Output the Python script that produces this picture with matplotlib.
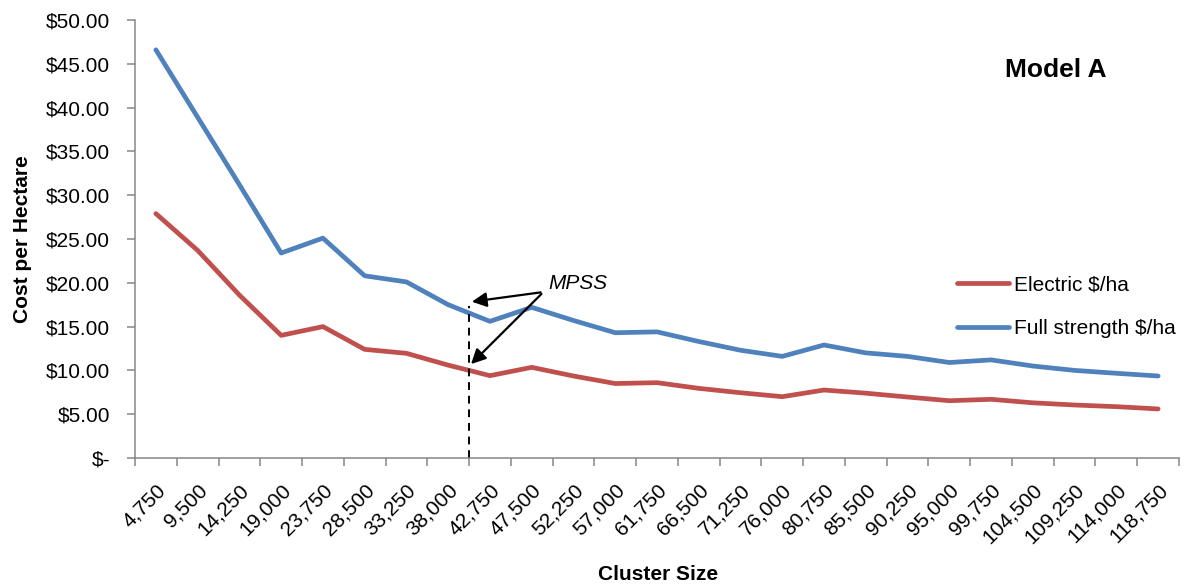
import numpy as np
import matplotlib.pyplot as plt

# cost per hectare by cluster size, Model A
plt.rcParams['font.family'] = ['Liberation Sans', 'DejaVu Sans']

cluster_sizes = ['4,750', '9,500', '14,250', '19,000', '23,750', '28,500', '33,250',
                 '38,000', '42,750', '47,500', '52,250', '57,000', '61,750', '66,500',
                 '71,250', '76,000', '80,750', '85,500', '90,250', '95,000', '99,750',
                 '104,500', '109,250', '114,000', '118,750']
electric = [27.9, 23.7, 18.6, 14.0, 15.0, 12.4, 11.95, 10.6, 9.4, 10.35, 9.36, 8.5,
            8.6, 7.95, 7.45, 7.0, 7.76, 7.4, 6.96, 6.54, 6.7, 6.3, 6.05, 5.86, 5.6]
full_strength = [46.6, 38.9, 31.2, 23.4, 25.1, 20.8, 20.1, 17.5, 15.6, 17.2, 15.7, 14.3,
                 14.4, 13.3, 12.3, 11.6, 12.9, 12.0, 11.6, 10.9, 11.2, 10.5, 10.0, 9.67, 9.36]
y_ticks = [0, 5, 10, 15, 20, 25, 30, 35, 40, 45, 50]
y_labels = ['$-', '$5.00', '$10.00', '$15.00', '$20.00', '$25.00', '$30.00',
            '$35.00', '$40.00', '$45.00', '$50.00']
mpss_pos = 7.5  # boundary between 38,000 and 42,750

red = '#C0504D'
blue = '#4F81BD'
grey = '#868686'

fig = plt.figure(figsize=(11.86, 5.88), dpi=100)
ax = fig.add_axes([135 / 1186, 1 - 458 / 588, 1044 / 1186, 438 / 588])

x = np.arange(len(cluster_sizes))
ax.plot(x, electric, color=red, lw=3.4, solid_capstyle='round', label='Electric $/ha')
ax.plot(x, full_strength, color=blue, lw=3.4, solid_capstyle='round', label='Full strength $/ha')

ax.set_xlim(-0.5, len(cluster_sizes) - 0.5)
ax.set_ylim(0, 50)

# category labels at centres, tick marks on the boundaries
ax.set_xticks(x)
ax.set_xticklabels(cluster_sizes, rotation=45, ha='right', rotation_mode='anchor', fontsize=15)
ax.set_xticks(np.arange(-0.5, len(cluster_sizes)), minor=True)
ax.tick_params(axis='x', which='major', length=0, pad=16)
ax.tick_params(axis='x', which='minor', length=6, width=1.1, color=grey)

ax.set_yticks(y_ticks)
ax.set_yticklabels(y_labels, fontsize=15)
ax.tick_params(axis='y', length=6, width=1.1, color=grey, pad=12)

for side in ['top', 'right']:
    ax.spines[side].set_visible(False)
for side in ['left', 'bottom']:
    ax.spines[side].set_color(grey)
    ax.spines[side].set_linewidth(1.1)

ax.set_ylabel('Cost per Hectare', fontsize=15, fontweight='bold', labelpad=10)
fig.text(658 / 1186, 1 - 575 / 588, 'Cluster Size', fontsize=15, fontweight='bold',
         ha='center', va='center')
fig.text(1056 / 1186, 1 - 70 / 588, 'Model A', fontsize=19, fontweight='bold',
         ha='center', va='center')

# MPSS marker
ax.plot([mpss_pos, mpss_pos], [0, 17.3], color='black', lw=1.4, ls=(0, (4, 3)))
ax.text(9.4, 19.9, 'MPSS', fontsize=15, style='italic', va='center')
for tip in [17.8, 10.5]:
    ax.annotate('', xy=(7.5, tip), xytext=(9.28, 18.95),
                arrowprops=dict(arrowstyle='-|>', color='black', lw=1.6, mutation_scale=22))

ax.legend(loc='upper left', bbox_to_anchor=(0.787, 0.417), frameon=False, fontsize=15,
          handlelength=2.5, handletextpad=0.25, labelspacing=1.2, borderpad=0,
          borderaxespad=0)

fig.savefig('out.png', dpi=100)
